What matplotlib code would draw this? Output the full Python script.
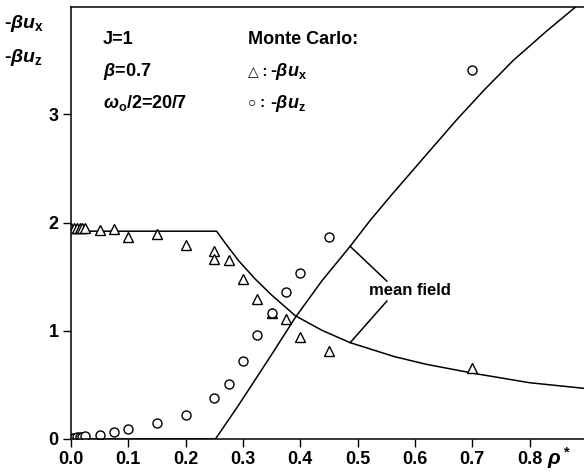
import numpy as np
import matplotlib
matplotlib.use('Agg')
import matplotlib.pyplot as plt

plt.rcParams['font.family'] = ['Liberation Sans', 'DejaVu Sans']
plt.rcParams['font.weight'] = 'bold'
plt.rcParams['mathtext.fontset'] = 'custom'
plt.rcParams['mathtext.rm'] = 'Liberation Sans:bold'
plt.rcParams['mathtext.it'] = 'Liberation Sans:italic:bold'
plt.rcParams['mathtext.bf'] = 'Liberation Sans:bold'

# Monte Carlo results
rho_x = [0.0, 0.005, 0.01, 0.015, 0.02, 0.025, 0.05, 0.075, 0.10, 0.15, 0.20, 0.25, 0.25,
         0.275, 0.30, 0.325, 0.35, 0.375, 0.40, 0.45, 0.70]
ux = [1.95, 1.95, 1.95, 1.95, 1.95, 1.95, 1.93, 1.94, 1.87, 1.89, 1.79, 1.74, 1.66,
      1.65, 1.48, 1.29, 1.16, 1.11, 0.94, 0.81, 0.66]

rho_z = [0.0, 0.005, 0.01, 0.015, 0.02, 0.025, 0.05, 0.075, 0.10, 0.15, 0.20, 0.25,
         0.275, 0.30, 0.325, 0.35, 0.375, 0.40, 0.45, 0.70]
uz = [0.01, 0.01, 0.015, 0.02, 0.02, 0.025, 0.037, 0.062, 0.092, 0.145, 0.22, 0.375,
      0.51, 0.72, 0.96, 1.167, 1.36, 1.535, 1.87, 3.41]

# mean field curves
mf_rho_x = [0.0, 0.254, 0.269, 0.292, 0.321, 0.35, 0.391, 0.4375, 0.487, 0.565, 0.62,
            0.702, 0.80, 0.895]
mf_ux = [1.92, 1.92, 1.81, 1.65, 1.48, 1.33, 1.14, 1.005, 0.89, 0.76, 0.69,
         0.607, 0.52, 0.468]
mf_rho_z = [0.0, 0.252, 0.292, 0.35, 0.391, 0.4375, 0.487, 0.522, 0.56, 0.627, 0.673,
            0.72, 0.772, 0.83, 0.88]
mf_uz = [0.0, 0.0, 0.31, 0.78, 1.12, 1.46, 1.78, 2.02, 2.26, 2.67, 2.95,
         3.22, 3.50, 3.77, 3.99]

xticks = [0.0, 0.1, 0.2, 0.3, 0.4, 0.5, 0.6, 0.7, 0.8]
yticks = [0, 1, 2, 3]

fig = plt.figure(figsize=(5.84, 4.73), dpi=100)
ax = fig.add_axes([0.1216, 0.0719, 0.8784, 0.913])

ax.plot(mf_rho_x, mf_ux, color='black', lw=1.1)
ax.plot(mf_rho_z, mf_uz, color='black', lw=1.1)
ax.plot(rho_x, ux, linestyle='none', marker='^', ms=6.5, mfc='white', mec='black', mew=1.0)
ax.plot(rho_z, uz, linestyle='none', marker='o', ms=6.5, mfc='white', mec='black', mew=1.0)

# bracket pointing at the two mean field lines
ax.plot([0.487, 0.551], [1.78, 1.459], color='black', lw=1.1)
ax.plot([0.487, 0.551], [0.89, 1.274], color='black', lw=1.1)
ax.text(0.592, 1.376, 'mean field', ha='center', va='center', fontsize=12, fontweight='bold')

ax.set_xlim(0, 0.895)
ax.set_ylim(0, 3.99)
ax.set_xticks(xticks)
ax.set_xticklabels(['%.1f' % v for v in xticks])
ax.set_yticks(yticks)
ax.tick_params(direction='out', length=6, width=1, labelsize=13, pad=3)
ax.spines['right'].set_visible(False)
for s in ['left', 'bottom', 'top']:
    ax.spines[s].set_linewidth(1.1)

W, H = 584, 473
def ftext(x, y, s, **kw):
    fig.text(x / W, 1 - y / H, s, va='center', ha='left', fontweight='bold', **kw)

ftext(4, 24, r'-$\beta u_\mathrm{x}$', fontsize=14)
ftext(4, 57, r'-$\beta u_\mathrm{z}$', fontsize=14)
ftext(103, 40, 'J=1', fontsize=13)
ftext(103, 72, r'$\beta$=0.7', fontsize=13)
ftext(103, 103, r'$\omega_\mathrm{o}$/2=20/7', fontsize=13)
ftext(248, 40, 'Monte Carlo:', fontsize=13)
ftext(248, 72, '\u25b3 : ', fontsize=10)
ftext(270, 72, r'-$\beta u_\mathrm{x}$', fontsize=13)
ftext(248, 103, '\u25cb : ', fontsize=10)
ftext(270, 103, r'-$\beta u_\mathrm{z}$', fontsize=13)
ftext(547, 458, r'$\rho^*$', fontsize=15)

fig.savefig('out.png', dpi=100)
